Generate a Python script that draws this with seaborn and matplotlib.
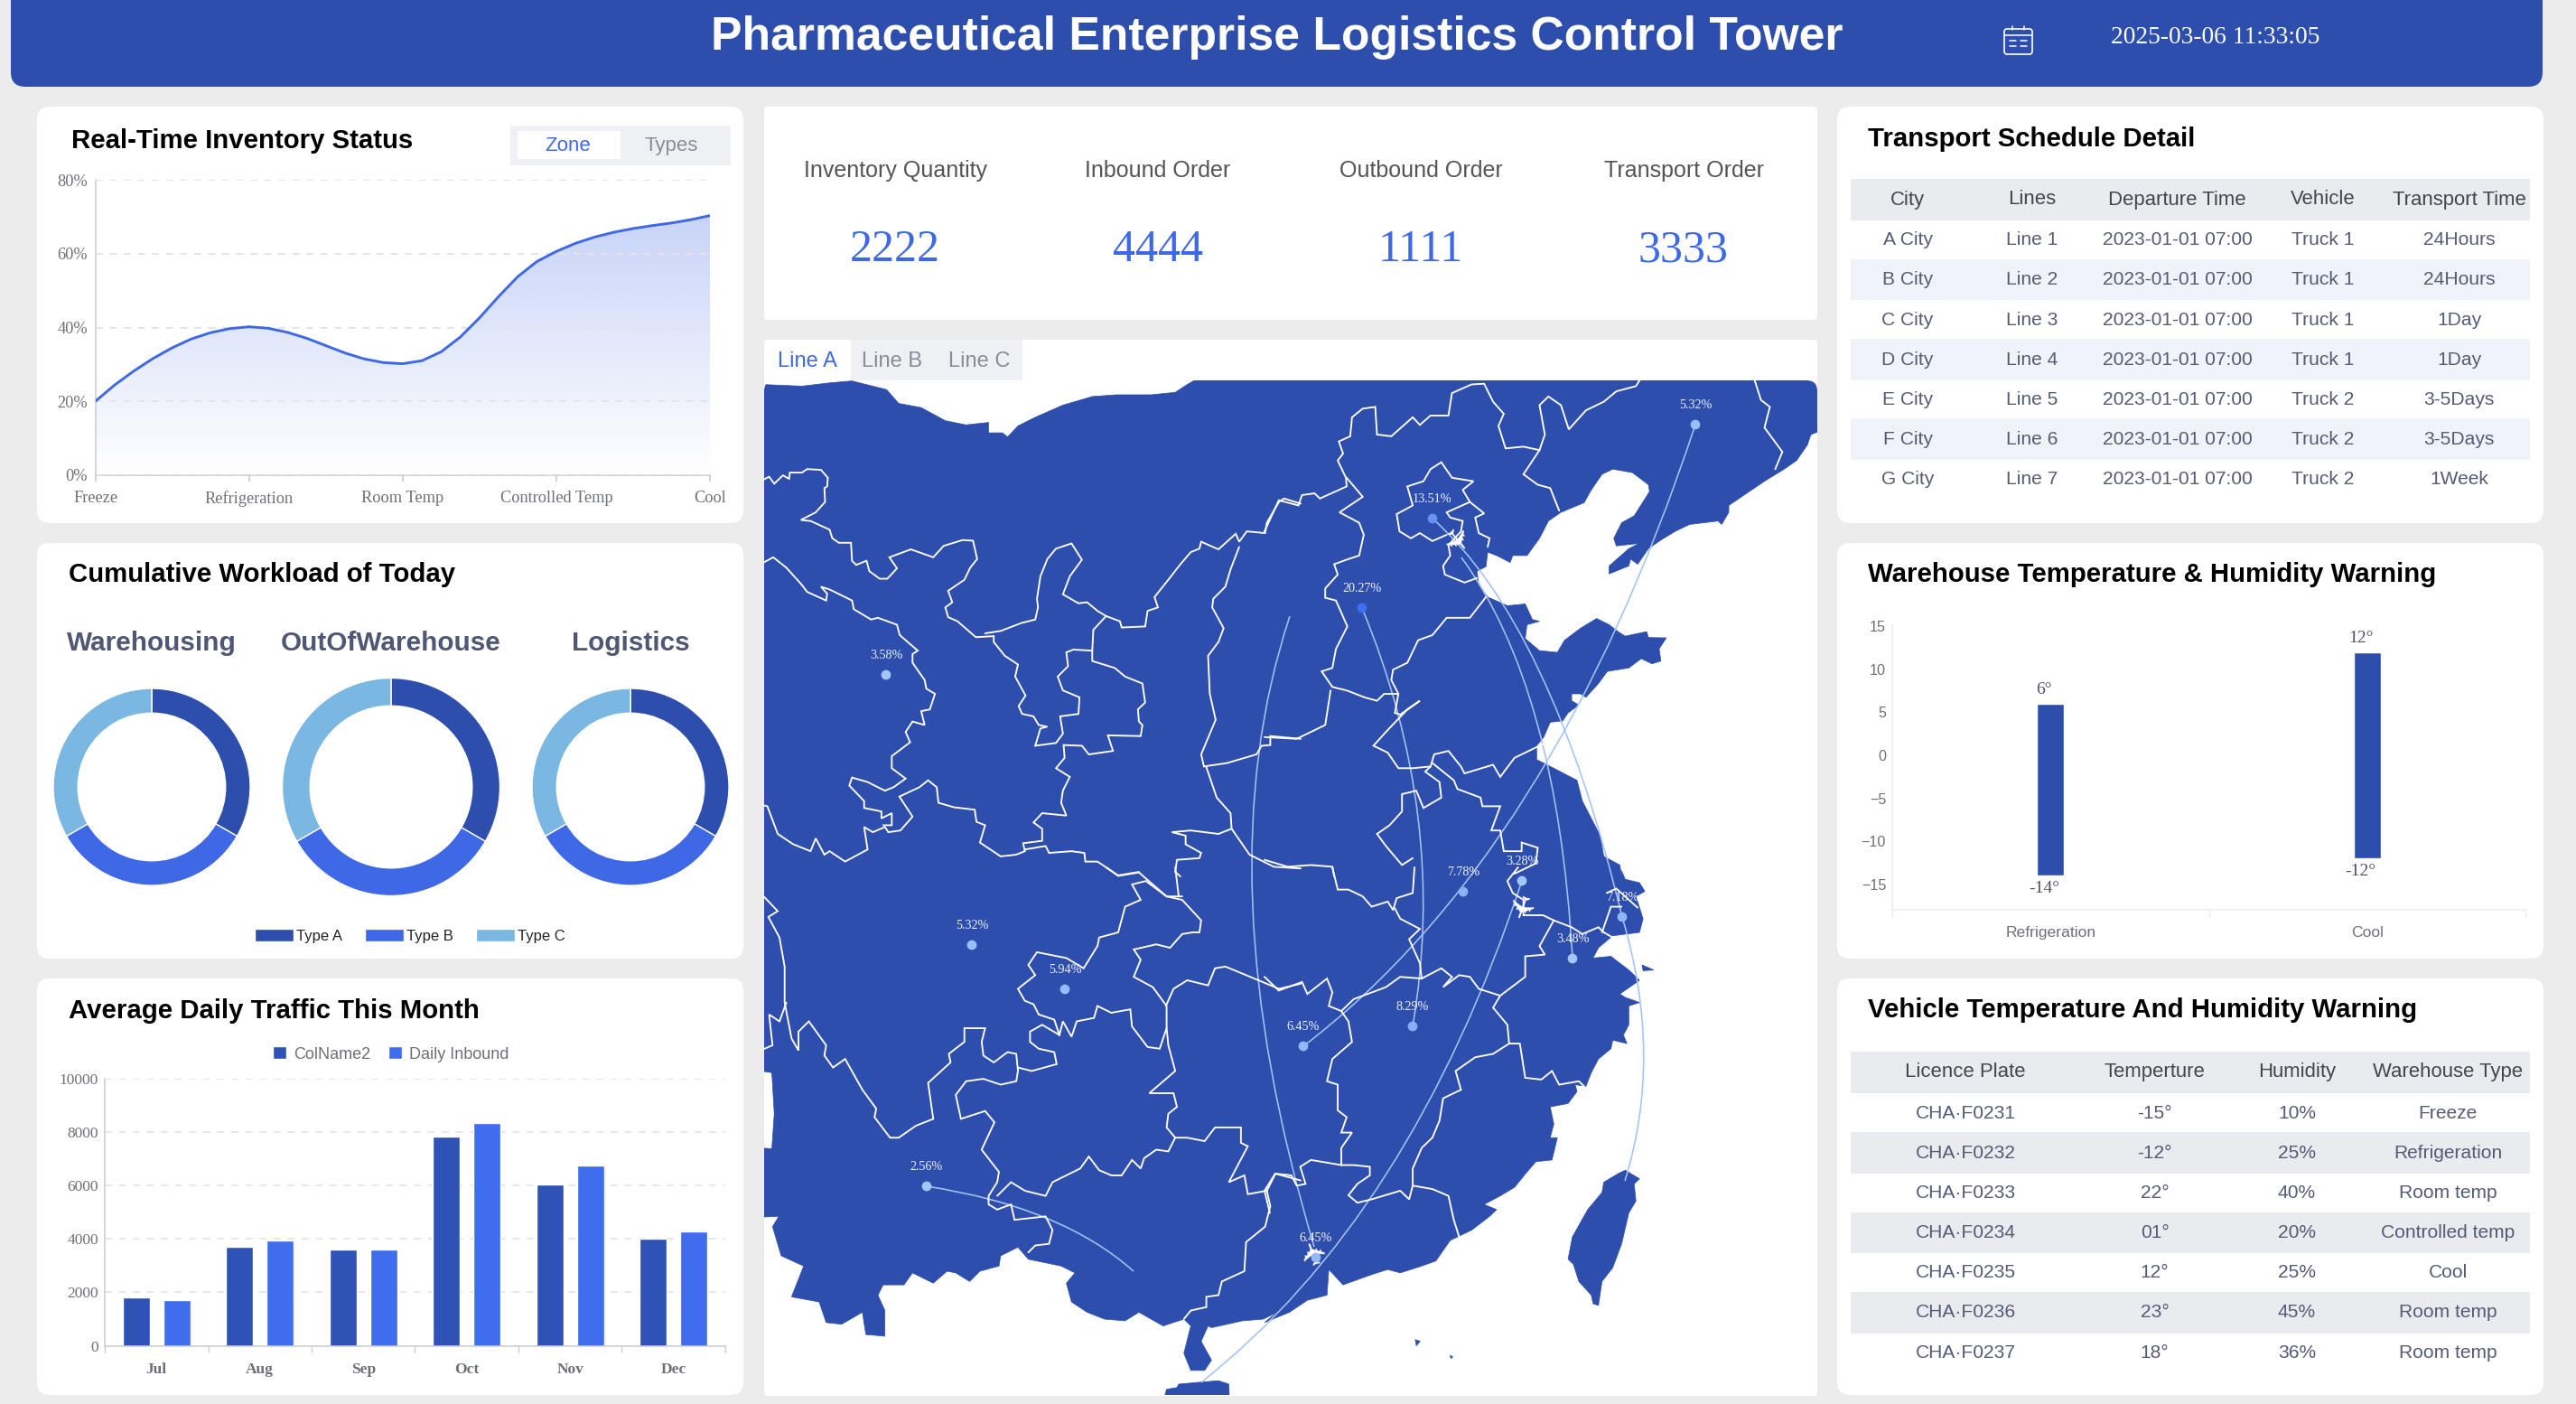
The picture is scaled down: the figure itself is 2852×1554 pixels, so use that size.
import numpy as np
import pandas as pd
import seaborn as sns
import matplotlib.pyplot as plt
from matplotlib.patches import FancyBboxPatch, Polygon, PathPatch, Rectangle, Patch
from matplotlib.path import Path

W, H = 2852, 1554
SANS = "Liberation Sans"
SERIF = "Liberation Serif"
NAVY = "#2e4eae"
BLUE = "#3e68e6"
SKY = "#7ab8e2"
GREY = "#6e7079"
TABLE_TEXT = "#555b75"

# inventory curve
CURVE_X = [0, .125, .25, .375, .5, .625, .75, .875, 1, 1.125, 1.25, 1.375, 1.5, 1.625, 1.75, 1.875,
           2, 2.125, 2.25, 2.375, 2.5, 2.625, 2.75, 2.875, 3, 3.125, 3.25, 3.375, 3.5, 3.625, 3.75, 3.875, 4]
CURVE_Y = [20, 24.4, 28.2, 31.6, 34.5, 36.9, 38.6, 39.7, 40.2, 39.8, 38.7, 37.1, 35.1, 33.1, 31.5, 30.5,
           30.2, 31, 33.4, 37.4, 42.6, 48.4, 53.8, 57.9, 60.6, 62.8, 64.5, 65.8, 66.8, 67.6, 68.3, 69.2, 70.3]
ZONES = ["Freeze", "Refrigeration", "Room Temp", "Controlled Temp", "Cool"]

DONUT_TITLES = ["Warehousing", "OutOfWarehouse", "Logistics"]
DONUT_TYPES = ["Type A", "Type B", "Type C"]
DONUT_VALUES = [[1, 1, 1], [1, 1, 1], [1, 1, 1]]

MONTHS = ["Jul", "Aug", "Sep", "Oct", "Nov", "Dec"]
COLNAME2 = [1810, 3710, 3610, 7830, 6040, 4000]
DAILY_INBOUND = [1710, 3950, 3610, 8340, 6740, 4290]

WAREHOUSES = ["Refrigeration", "Cool"]
TEMP_LOW = [-14, -12]
TEMP_HIGH = [6, 12]

KPI_NAMES = ["Inventory Quantity", "Inbound Order", "Outbound Order", "Transport Order"]
KPI_VALUES = ["2222", "4444", "1111", "3333"]

SCHEDULE_HEAD = ["City", "Lines", "Departure Time", "Vehicle", "Transport Time"]
CITY = ["A City", "B City", "C City", "D City", "E City", "F City", "G City"]
LINES = ["Line 1", "Line 2", "Line 3", "Line 4", "Line 5", "Line 6", "Line 7"]
DEPARTURE = ["2023-01-01 07:00"] * 7
VEHICLE = ["Truck 1", "Truck 1", "Truck 1", "Truck 1", "Truck 2", "Truck 2", "Truck 2"]
TRANSIT = ["24Hours", "24Hours", "1Day", "1Day", "3-5Days", "3-5Days", "1Week"]

VEHICLE_HEAD = ["Licence Plate", "Temperture", "Humidity", "Warehouse Type"]
PLATE = ["CHA·F0231", "CHA·F0232", "CHA·F0233", "CHA·F0234", "CHA·F0235", "CHA·F0236", "CHA·F0237"]
VEHICLE_TEMP = ["-15°", "-12°", "22°", "01°", "12°", "23°", "18°"]
HUMIDITY = ["10%", "25%", "40%", "20%", "25%", "45%", "36%"]
STORE_TYPE = ["Freeze", "Refrigeration", "Room temp", "Controlled temp", "Cool", "Room temp", "Room temp"]

NW = (840, 370, .3827, .3827)
NE = (1400, 370, .3954, .3827)
SW = (840, 960, .3827, .3788)
SE = (1400, 960, .3954, .3788)

COAST_NW = [(5, 145), (125, 150), (210, 140), (270, 135), (370, 160), (405, 200), (470, 212), (540, 250), (600, 262),
            (665, 255), (665, 285), (705, 285), (720, 297), (750, 265), (800, 240), (880, 205), (965, 180), (1035, 175),
            (1135, 175), (1205, 168), (1240, 145), (1275, 125)]
COAST_NE = [(1560, 125), (1560, 278), (1530, 290), (1520, 320), (1490, 365), (1455, 390), (1400, 425), (1350, 460),
            (1300, 495), (1300, 515), (1280, 550), (1270, 540), (1190, 550), (1150, 570), (1110, 595), (1075, 620),
            (1045, 665), (1025, 650), (1020, 670), (965, 693), (965, 670), (1020, 620), (1048, 605), (985, 612),
            (978, 590), (1000, 545), (1035, 525), (1078, 455), (1075, 435), (1030, 400), (975, 390), (945, 405),
            (915, 450), (895, 487), (830, 515), (795, 540), (770, 590), (735, 640), (695, 640), (688, 660), (650, 640),
            (625, 630), (620, 672), (595, 685), (600, 725), (625, 760), (680, 785), (730, 780), (750, 825), (770, 830),
            (735, 840), (730, 880), (770, 915), (820, 920), (840, 885), (885, 850), (930, 822), (965, 840), (990, 860),
            (1010, 873), (1070, 860), (1075, 877), (1125, 878), (1105, 910), (1110, 945), (1085, 953), (1055, 938),
            (1020, 965), (960, 975), (935, 1010), (900, 1050), (885, 1040), (860, 1040), (860, 1060), (880, 1072),
            (850, 1095), (835, 1118), (800, 1122), (782, 1165), (762, 1190), (762, 1230), (810, 1255), (875, 1290),
            (890, 1350), (940, 1450), (950, 1510), (995, 1535), (1000, 1568)]
COAST_SE = [(1000, 10), (1010, 35), (1050, 45), (1065, 70), (1040, 85), (1060, 150), (1050, 190), (975, 200), (935, 235),
            (920, 265), (970, 260), (1020, 300), (1050, 330), (995, 370), (1010, 380), (1050, 395), (1020, 405),
            (1020, 460), (1005, 490), (1015, 515), (975, 505), (970, 530), (935, 560), (915, 600), (900, 640),
            (870, 635), (875, 655), (850, 690), (800, 700), (810, 750), (800, 790), (820, 790), (805, 855), (760, 860),
            (735, 890), (700, 935), (660, 960), (615, 985), (650, 1000), (630, 1020), (580, 1060), (520, 1090),
            (480, 1150), (440, 1165), (380, 1185), (345, 1175), (300, 1190), (220, 1220), (180, 1175), (175, 1250),
            (120, 1265), (70, 1300), (0, 1330)]
COAST_SW = [(1500, 1300), (1460, 1320), (1400, 1325), (1310, 1345), (1300, 1340), (1280, 1385), (1310, 1440), (1290, 1470),
            (1250, 1470), (1230, 1420), (1250, 1340), (1230, 1320), (1170, 1340), (1100, 1300), (1060, 1325), (1000, 1320),
            (950, 1300), (905, 1270), (890, 1215), (915, 1185), (875, 1165), (780, 1145), (750, 1110), (700, 1135),
            (695, 1165), (640, 1180), (610, 1210), (570, 1185), (545, 1180), (505, 1215), (445, 1185), (420, 1220),
            (360, 1220), (345, 1250), (365, 1295), (365, 1370), (310, 1365), (300, 1300), (240, 1335), (195, 1330),
            (175, 1270), (95, 1255), (130, 1165), (65, 1135), (40, 1050), (58, 1020), (5, 1022), (5, 820), (38, 822),
            (45, 720), (38, 600), (5, 595)]
HAINAN = [(1170, 1560), (1180, 1525), (1210, 1520), (1215, 1510), (1270, 1505), (1330, 1500), (1360, 1510), (1362, 1560)]
TAIWAN = [(1010, 885), (1050, 910), (1035, 925), (1040, 975), (1020, 1010), (1000, 1100), (975, 1170), (945, 1210),
          (935, 1280), (920, 1275), (915, 1250), (880, 1210), (865, 1160), (850, 1145), (862, 1080), (905, 1000),
          (945, 950), (950, 920), (990, 895)]
ISLET_A = [(1057, 285), (1090, 300), (1060, 302)]
ISLET_B = [(422, 1380), (436, 1385), (425, 1398)]
ISLET_C = [(520, 1426), (527, 1430), (522, 1436)]

BORDERS_NW = [
    [(5, 425), (30, 412), (45, 432), (70, 408), (88, 418), (90, 400), (125, 400), (140, 390), (180, 392), (200, 415), (198, 440),
     (190, 445), (192, 485), (165, 515), (122, 537), (150, 540), (205, 565), (213, 590), (232, 603), (267, 603), (270, 655),
     (282, 667), (312, 655), (320, 685), (350, 707), (372, 707), (400, 677), (378, 645), (440, 622), (505, 645), (535, 612),
     (590, 595), (620, 597), (632, 650), (612, 675), (595, 710), (548, 742), (560, 775), (540, 790), (548, 818), (575, 830),
     (628, 876), (680, 873), (680, 890), (712, 930), (750, 955), (742, 990), (772, 1045), (752, 1075), (762, 1098), (795, 1105),
     (810, 1130), (835, 1135), (815, 1140), (800, 1190), (860, 1182), (880, 1155), (872, 1105), (925, 1098), (928, 1050),
     (880, 1030), (865, 990), (895, 960), (890, 920), (910, 912), (965, 915), (965, 945), (1030, 965), (1060, 990), (1110, 1010),
     (1118, 1065), (1097, 1085), (1100, 1120), (1110, 1130), (1105, 1162), (1010, 1160), (1025, 1205), (955, 1215), (935, 1190),
     (882, 1188), (885, 1225), (860, 1255), (900, 1280), (880, 1320), (875, 1355), (890, 1392), (820, 1385), (795, 1412),
     (820, 1430), (820, 1465), (765, 1472), (770, 1495), (745, 1505), (700, 1510), (640, 1470), (655, 1420), (630, 1410),
     (625, 1375), (565, 1368), (520, 1355), (515, 1310), (490, 1290), (465, 1310), (407, 1337), (445, 1395), (410, 1435),
     (375, 1440), (365, 1425), (330, 1440), (305, 1425), (315, 1490), (250, 1525), (205, 1495), (190, 1505), (165, 1458),
     (150, 1495), (100, 1475), (55, 1445), (25, 1365), (5, 1360)],
    [(5, 665), (42, 645), (80, 675), (125, 725), (140, 745), (195, 770), (198, 750), (180, 730), (205, 738), (270, 770), (275, 795),
     (325, 825), (345, 820), (400, 840), (408, 870), (460, 915), (445, 925), (445, 950), (480, 1000), (485, 1025), (510, 1040),
     (495, 1085), (470, 1090), (480, 1130), (445, 1120), (425, 1150), (438, 1180), (385, 1220), (385, 1255), (425, 1285), (390, 1310),
     (365, 1320), (315, 1295), (270, 1282), (262, 1305), (305, 1350), (305, 1370), (355, 1380), (355, 1400), (385, 1385), (385, 1420),
     (360, 1420)],
    [(655, 865), (700, 858), (760, 835), (800, 825), (808, 790), (805, 765), (815, 700), (835, 650), (860, 620), (905, 605), (935, 652),
     (900, 700), (880, 752), (925, 778), (950, 775), (980, 800), (1005, 815), (968, 855), (965, 915)],
    [(1005, 815), (1045, 830), (1050, 848), (1118, 845), (1125, 800), (1140, 795), (1155, 790), (1145, 760), (1185, 710), (1220, 665),
     (1250, 630), (1275, 620), (1280, 600), (1330, 622), (1380, 577), (1390, 600), (1412, 570), (1465, 575), (1470, 545), (1505, 485),
     (1520, 475), (1568, 490)],
    [(1390, 615), (1365, 680), (1350, 730), (1315, 765), (1312, 790), (1345, 850), (1330, 890), (1300, 930), (1305, 1040), (1322, 1115),
     (1280, 1215), (1288, 1250), (1355, 1240), (1440, 1215), (1455, 1190), (1480, 1188), (1480, 1162), (1568, 1170)],
    [(1295, 1252), (1325, 1340), (1365, 1385), (1368, 1430), (1330, 1445), (1250, 1435), (1195, 1440), (1235, 1450), (1235, 1475),
     (1280, 1500), (1275, 1515), (1210, 1520), (1205, 1555), (1220, 1568)],
    [(1368, 1430), (1420, 1505), (1490, 1540), (1568, 1545)],
    [(770, 1490), (830, 1480), (840, 1500), (905, 1495), (942, 1500), (945, 1525), (980, 1525), (1040, 1565), (1100, 1555)],
]
BORDERS_NE = [
    [(0, 570), (40, 480), (95, 495), (105, 465), (140, 460), (155, 475), (230, 440), (228, 415), (205, 365), (220, 345), (208, 310),
     (240, 295), (245, 240), (275, 215), (310, 210), (315, 290), (355, 295), (415, 240), (435, 262), (465, 235), (515, 235), (525, 170),
     (580, 145), (615, 143), (640, 195), (670, 230), (655, 265), (675, 330), (725, 325), (770, 335), (785, 290), (770, 205), (795, 180),
     (830, 205), (852, 275), (900, 220), (950, 195), (985, 165), (1040, 150), (1055, 125)],
    [(1370, 125), (1390, 190), (1415, 210), (1400, 270), (1450, 340), (1430, 390)],
    [(770, 335), (725, 405), (765, 435), (800, 445), (825, 510)],
    [(230, 415), (275, 470), (210, 515), (265, 545), (278, 580), (265, 640), (235, 650), (195, 665), (205, 695), (170, 735), (170, 762),
     (200, 770), (232, 845), (200, 910), (190, 965), (160, 975), (190, 1020)],
    [(510, 580), (470, 598), (435, 575), (410, 590), (378, 570), (370, 520), (415, 495), (400, 440), (445, 425), (465, 390), (495, 370),
     (525, 415), (585, 425), (555, 450), (575, 485), (510, 515), (520, 530), (555, 540), (550, 570), (515, 610), (520, 640), (500, 670),
     (505, 695), (560, 718), (595, 705)],
    [(575, 485), (615, 518), (590, 530), (600, 575), (630, 590), (625, 615)],
    [(620, 760), (590, 800), (575, 820), (510, 820), (470, 870), (430, 885), (400, 950), (360, 970), (355, 1000), (375, 1040), (335, 1040),
     (315, 1060), (280, 1050), (230, 1030), (190, 1020)],
    [(375, 1040), (365, 1095), (380, 1100), (435, 1060), (400, 1085), (340, 1150), (305, 1190), (345, 1210), (375, 1255), (415, 1255),
     (465, 1250), (475, 1215), (515, 1205), (550, 1250), (560, 1270), (640, 1245), (660, 1280), (700, 1225), (780, 1185)],
    [(465, 1250), (450, 1265), (490, 1295), (495, 1340), (445, 1370), (425, 1320), (385, 1330), (385, 1380), (350, 1420), (315, 1445),
     (340, 1480), (385, 1535), (415, 1515)],
    [(470, 1240), (530, 1290), (540, 1315), (605, 1340), (610, 1365), (660, 1365), (635, 1435), (660, 1435), (670, 1495), (720, 1495),
     (720, 1470), (765, 1485), (760, 1530), (700, 1560)],
    [(0, 1165), (90, 1170), (170, 1130), (185, 1030)],
    [(0, 1520), (65, 1540), (130, 1535), (190, 1540), (195, 1568)],
]
BORDERS_SW = [
    [(5, 75), (55, 128), (28, 145), (60, 205), (75, 290), (75, 395), (95, 500), (115, 535), (115, 480), (145, 450), (195, 520), (190, 550),
     (215, 585), (250, 560), (300, 650), (340, 705), (335, 730), (380, 790), (405, 790), (455, 755), (505, 735), (490, 630), (555, 570),
     (550, 545), (595, 510), (595, 470), (655, 470), (645, 510), (650, 550), (680, 570), (720, 540), (745, 545), (750, 595), (745, 625),
     (700, 635), (650, 618), (600, 625), (570, 665), (585, 735), (655, 712), (682, 745), (645, 825), (695, 890), (690, 920), (665, 960),
     (665, 985), (690, 1000), (730, 985), (740, 1030), (830, 1020), (850, 1060), (840, 1100), (800, 1105), (780, 1125)],
    [(80, 395), (60, 450), (30, 430), (40, 520), (5, 535)],
    [(750, 585), (790, 595), (862, 575), (855, 540), (810, 530), (785, 510), (785, 480), (820, 460), (870, 490), (880, 450), (905, 495),
     (920, 450), (970, 440), (980, 405), (1020, 425), (1075, 415), (1080, 465), (1125, 525), (1160, 530), (1180, 470), (1180, 405),
     (1140, 350), (1085, 320), (1105, 270), (1085, 240), (1150, 225), (1190, 235), (1225, 195), (1255, 190), (1275, 190), (1280, 155),
     (1225, 95), (1180, 85), (1120, 40), (1080, 50), (1105, 95), (1060, 115), (1040, 190), (985, 205), (980, 230), (940, 295), (890, 265),
     (805, 248), (780, 285), (800, 315), (750, 355), (770, 390), (795, 400), (810, 430), (855, 445), (870, 490)],
    [(1005, 0), (1040, 25), (1100, 15), (1180, 85), (1225, 85)],
    [(1205, 0), (1215, 85)],
    [(1180, 470), (1185, 520), (1205, 595), (1130, 660), (1200, 660), (1210, 700), (1185, 720), (1180, 760), (1205, 790), (1185, 830),
     (1150, 825), (1115, 850), (1105, 880), (1080, 855), (1050, 900), (1020, 900), (985, 885), (955, 845), (930, 880), (850, 920),
     (830, 960), (770, 945), (730, 920), (690, 960)],
    [(1205, 790), (1240, 790), (1290, 800), (1320, 760), (1395, 760), (1395, 805), (1415, 815), (1360, 920), (1405, 900), (1415, 955),
     (1470, 945), (1495, 895), (1568, 915)],
    [(1470, 945), (1480, 990), (1465, 1050), (1410, 1095), (1405, 1180), (1340, 1210), (1330, 1250), (1295, 1255), (1295, 1285),
     (1250, 1295), (1230, 1320)],
    [(1178, 405), (1200, 355), (1240, 330), (1300, 345), (1320, 295), (1350, 290), (1410, 315), (1505, 355), (1568, 340)],
]
BORDERS_SE = [
    [(190, 0), (205, 65), (235, 65), (275, 85), (300, 115), (345, 100), (360, 125), (370, 90), (415, 75), (420, 0)],
    [(365, 120), (380, 150), (435, 180), (405, 210), (435, 280), (440, 325), (380, 320), (340, 350), (250, 385), (215, 420), (235, 450),
     (245, 510), (190, 560), (175, 625), (205, 635), (205, 710), (230, 730), (215, 775), (245, 775), (215, 820), (215, 870), (130, 855),
     (100, 875), (115, 925), (90, 930), (75, 900), (30, 895), (0, 945), (15, 1010)],
    [(0, 320), (40, 360), (105, 335), (120, 370), (175, 325), (190, 365), (180, 405), (215, 420)],
    [(440, 325), (495, 295), (525, 320), (500, 350), (545, 315), (575, 320), (600, 355), (660, 375), (640, 410), (680, 460), (685, 515),
     (640, 545), (590, 555), (535, 595), (550, 650), (500, 675), (490, 740), (470, 790), (440, 820), (415, 880), (415, 930), (405, 970),
     (380, 945), (300, 970), (260, 980), (235, 958), (260, 925), (295, 900), (295, 875), (250, 870), (215, 870)],
    [(685, 515), (715, 515), (730, 615), (775, 620), (805, 595), (825, 635), (880, 625), (895, 640)],
    [(415, 930), (470, 940), (515, 960), (530, 1030), (545, 1080)],
    [(710, 0), (680, 40), (695, 75), (725, 95), (725, 140), (780, 140), (810, 155), (770, 230), (785, 255), (730, 260), (730, 320), (660, 375)],
    [(810, 155), (860, 175), (890, 195), (935, 175), (950, 190), (975, 205)],
    [(945, 190), (970, 115), (1000, 115)],
    [(958, 75), (985, 62), (1045, 118)],
]

# cities on the map: value, place on the map
CITY_VALUES = ["3.58%", "20.27%", "13.51%", "5.32%", "7.78%", "3.28%", "3.48%", "7.18%", "6.45%", "8.29%", "6.45%", "5.32%", "5.94%", "2.56%"]
CITY_X = [981, 1508, 1586, 1877, 1620, 1685, 1741, 1796, 1443, 1564, 1457, 1076, 1179, 1026]
CITY_Y = [747, 673, 574, 470, 987, 975, 1061, 1015, 1158, 1136, 1392, 1046, 1095, 1313]

# routes as start, bend, end of a quadratic curve
ROUTES = [
    [(1026, 1313), (1175, 1336), (1255, 1407)],
    [(1428, 682), (1332, 970), (1455, 1380)],
    [(1508, 673), (1604, 905), (1564, 1136)],
    [(1586, 574), (1717, 690), (1796, 1015)],
    [(1618, 617), (1724, 761), (1741, 1061)],
    [(1877, 470), (1720, 946), (1443, 1158)],
    [(1685, 975), (1562, 1347), (1330, 1530)],
    [(1796, 1015), (1842, 1169), (1799, 1307)],
]
PLANE_X = [1610, 1679, 1455]
PLANE_Y = [601, 1004, 1384]
PLANE_TURN = [-50, -110, 110]


def to_map(points, crop):
    x0, y0, sx, sy = crop
    return [(x0 + x * sx, y0 + y * sy) for x, y in points]


def box_ax(x0, y0, x1, y1):
    ax = fig.add_axes([x0 / W, 1 - y1 / H, (x1 - x0) / W, (y1 - y0) / H])
    ax.patch.set_alpha(0)
    return ax


def card(x0, y0, x1, y1, color="white", r=14):
    bg.add_patch(FancyBboxPatch((x0, y0), x1 - x0, y1 - y0, boxstyle=f"round,pad=0,rounding_size={r}",
                                fc=color, ec="none"))


def heading(x, y, text):
    bg.text(x, y + 1, text, family=SANS, weight="bold", fontsize=21.2, color="black", va="center", ha="left")


def style_axis(ax, color="#cccccc"):
    sns.despine(ax=ax)
    for side in ["left", "bottom"]:
        ax.spines[side].set_color(color)
        ax.spines[side].set_linewidth(1.1)


def draw_table(columns, col_x, head, head_y, row_y, bands, band_color, x0, x1):
    bg.add_patch(Rectangle((x0, head_y - 23), x1 - x0, 46, fc="#e9ebef", ec="none"))
    for top, bottom in bands:
        bg.add_patch(Rectangle((x0, top), x1 - x0, bottom - top, fc=band_color, ec="none"))
    for name, x in zip(head, col_x):
        bg.text(x, head_y, name, family=SANS, fontsize=15.9, color="#44454f", ha="center", va="center")
    for values, x in zip(columns, col_x):
        for value, y in zip(values, row_y):
            bg.text(x, y, value, family=SANS, fontsize=15.1, color=TABLE_TEXT, ha="center", va="center")


sns.set_theme(style="white", rc={"figure.facecolor": "#ececec", "axes.facecolor": "none"})
plt.rcParams["font.family"] = [SANS, "DejaVu Sans"]

fig = plt.figure(figsize=(W / 100, H / 100), dpi=100)
bg = fig.add_axes([0, 0, 1, 1])
bg.set_xlim(0, W)
bg.set_ylim(H, 0)
bg.axis("off")

# header
card(12, -30, 2815, 96, NAVY, r=16)
bg.text(1414, 41, "Pharmaceutical Enterprise Logistics Control Tower", family=SANS, weight="bold", fontsize=37.2,
        color="white", ha="center", va="center")
bg.text(2453, 42, "2025-03-06 11:33:05", family=SERIF, fontsize=19.8, color="white", ha="center", va="center")
bg.add_patch(FancyBboxPatch((2219, 32), 31, 28, boxstyle="round,pad=0,rounding_size=3", fc="none", ec="white", lw=1.2))
bg.plot([2219, 2250], [39, 39], color="white", lw=1.1)
for x in [2228, 2241]:
    bg.plot([x, x], [29, 33], color="white", lw=1.1)
for x in [2225, 2237]:
    for y in [45, 51]:
        bg.plot([x, x + 7], [y, y], color="white", lw=1.1)

# cards
for y0, y1 in [(118, 579), (601, 1061), (1083, 1544)]:
    card(41, y0, 823, y1)
    card(2034, y0, 2816, y1)
card(846, 118, 2012, 354, r=4)
card(846, 376, 2012, 1545, r=4)

heading(79, 155, "Real-Time Inventory Status")
heading(76, 635, "Cumulative Workload of Today")
heading(76, 1118, "Average Daily Traffic This Month")
heading(2068, 153, "Transport Schedule Detail")
heading(2068, 635, "Warehouse Temperature & Humidity Warning")
heading(2068, 1117, "Vehicle Temperature And Humidity Warning")

# zone toggle
bg.add_patch(Rectangle((565, 139), 244, 44, fc="#eff0f4", ec="none"))
bg.add_patch(Rectangle((573, 145), 114, 31, fc="white", ec="none"))
bg.text(629, 161.5, "Zone", family=SANS, fontsize=16, color=BLUE, ha="center", va="center")
bg.text(743, 161.5, "Types", family=SANS, fontsize=16, color="#8a8d99", ha="center", va="center")

# inventory area chart
ax = box_ax(105.5, 199, 786, 526)
sns.lineplot(x=CURVE_X, y=CURVE_Y, color=BLUE, linewidth=2.1, ax=ax, zorder=4)
area = ax.fill_between(CURVE_X, CURVE_Y, 0, color="none")
shade = np.zeros((256, 2, 4))
shade[..., :3] = plt.matplotlib.colors.to_rgb(BLUE)
shade[..., 3] = np.linspace(.29, 0, 256)[:, None]
im = ax.imshow(shade, extent=[0, 4, 0, max(CURVE_Y)], aspect="auto", zorder=1)
im.set_clip_path(area.get_paths()[0], ax.transData)
ax.set_xlim(0, 4)
ax.set_ylim(0, 80)
ax.set_xticks(range(5), ZONES)
ax.set_yticks([0, 20, 40, 60, 80], ["0%", "20%", "40%", "60%", "80%"])
ax.grid(axis="y", color="#e4e4e8", linestyle=(0, (4, 4)), linewidth=1.4)
ax.set_axisbelow(False)
style_axis(ax)
ax.tick_params(axis="x", length=5, color="#cccccc", labelsize=13.2, labelcolor=GREY, labelfontfamily=SERIF, pad=7, bottom=True)
ax.tick_params(axis="y", length=0, labelsize=13.2, labelcolor=GREY, labelfontfamily=SERIF, pad=6)
ax.set_xlabel("")

# donuts
wedges = None
for title, values, cx, r in zip(DONUT_TITLES, DONUT_VALUES, [168, 433, 698], [109, 120.5, 109]):
    ax = box_ax(cx - r, 871 - r, cx + r, 871 + r)
    pieces, _ = ax.pie(values, colors=[NAVY, BLUE, SKY], startangle=90, counterclock=False, radius=1,
                       wedgeprops={"width": .25 if r < 110 else .255})
    ax.set_xlim(-1, 1)
    ax.set_ylim(-1, 1)
    wedges = wedges or pieces
    bg.text(cx, 712, title, family=SANS, weight="bold", fontsize=21.4, color="#4f5775", ha="center", va="center")
fig.legend(wedges, DONUT_TYPES, loc="center", bbox_to_anchor=(454 / W, 1 - 1036 / H), ncols=3, frameon=False,
           fontsize=12, handlelength=2.58, handleheight=.9, handletextpad=.18, columnspacing=1.52, labelcolor="#222222")

# traffic bars
traffic = pd.DataFrame({"month": MONTHS * 2, "series": ["ColName2"] * 6 + ["Daily Inbound"] * 6,
                        "value": COLNAME2 + DAILY_INBOUND})
ax = box_ax(116, 1193.5, 803, 1489.5)
sns.barplot(data=traffic, x="month", y="value", hue="series", palette=["#2e52b6", "#3f6dee"], width=.794, gap=.34,
            ax=ax, saturation=1)
ax.set_xlim(-.5, 5.5)
ax.set_ylim(0, 10000)
ax.set_yticks(range(0, 10001, 2000))
ax.set_xlabel("")
ax.set_ylabel("")
ax.grid(axis="y", color="#e8e8ec", linestyle=(0, (4, 4)), linewidth=1.4)
ax.set_axisbelow(True)
style_axis(ax)
ax.set_xticks(np.arange(-.5, 6), minor=True)
ax.tick_params(axis="x", which="minor", length=5, color="#cccccc", bottom=True)
ax.tick_params(axis="x", which="major", length=0, labelsize=12.5, labelcolor=GREY, labelfontfamily=SERIF, pad=13)
for label in ax.get_xticklabels():
    label.set_weight("bold")
ax.tick_params(axis="y", length=0, labelsize=12.5, labelcolor=GREY, labelfontfamily=SERIF, pad=5)
handles = [Patch(fc=c, label=n) for c, n in zip(["#2e52b6", "#3f6dee"], ["ColName2", "Daily Inbound"])]
ax.legend(handles=handles, loc="center", bbox_to_anchor=(432.5 / W, 1 - 1167 / H), bbox_transform=fig.transFigure, ncols=2,
          frameon=False, fontsize=13, handlelength=.83, handleheight=.83, handletextpad=.44, columnspacing=1.1, labelcolor=GREY)

# kpi row
for name, value, x in zip(KPI_NAMES, KPI_VALUES, [991, 1282, 1573, 1864]):
    bg.text(x, 189, name, family=SANS, fontsize=18, color="#555555", ha="center", va="center")
    bg.text(x, 277, value, family=SERIF, fontsize=36, color=BLUE, ha="center", va="center")

# map tabs
bg.add_patch(Rectangle((942, 376), 190, 45, fc="#eff0f4", ec="none"))
for name, x, c in zip(["Line A", "Line B", "Line C"], [893.5, 988, 1084], [BLUE, "#8a8d99", "#8a8d99"]):
    bg.text(x, 399.5, name, family=SANS, fontsize=17, color=c, ha="center", va="center")

# map
ax = box_ax(846, 421, 2012, 1544)
ax.set_xlim(846, 2012)
ax.set_ylim(1544, 421)
ax.axis("off")
frame = FancyBboxPatch((846, 421), 1166, 1123, boxstyle="round,pad=0,rounding_size=12", fc="white", ec="none")
ax.add_patch(frame)
land = to_map(COAST_NW, NW) + to_map(COAST_NE, NE) + to_map(COAST_SE, SE) + to_map(COAST_SW, SW)
shapes = [land, to_map(HAINAN, SW), to_map(TAIWAN, SE), to_map(ISLET_A, SE), to_map(ISLET_B, SE), to_map(ISLET_C, SE)]
for points in shapes:
    poly = Polygon(points, closed=True, fc=NAVY, ec=NAVY, lw=.5)
    ax.add_patch(poly)
    poly.set_clip_path(frame)
for group, crop in [(BORDERS_NW, NW), (BORDERS_NE, NE), (BORDERS_SW, SW), (BORDERS_SE, SE)]:
    for border in group:
        xs, ys = zip(*to_map(border, crop))
        line, = ax.plot(xs, ys, color="white", lw=1.35, solid_joinstyle="miter")
        line.set_clip_path(frame)
for route in ROUTES:
    ax.add_patch(PathPatch(Path(route, [Path.MOVETO, Path.CURVE3, Path.CURVE3]), fc="none", ec="#a4c3f8", lw=1.15))
for x, y, turn in zip(PLANE_X, PLANE_Y, PLANE_TURN):
    ax.text(x, y, "\u2708", family="DejaVu Sans", fontsize=25, color="white", rotation=turn, ha="center", va="center")
numbers = [float(v.rstrip("%")) for v in CITY_VALUES]
sns.scatterplot(x=CITY_X, y=CITY_Y, hue=numbers, palette=sns.blend_palette(["#a4c6fa", "#3a72ee"], as_cmap=True),
                hue_norm=(4, 20), s=60, linewidth=0, legend=False, ax=ax, zorder=5)
ax.set_xlim(846, 2012)
ax.set_ylim(1544, 421)
for value, x, y in zip(CITY_VALUES, CITY_X, CITY_Y):
    ax.text(x, y - 22, value, family=SERIF, fontsize=10.2, color="#eef2fc", ha="center", va="center", zorder=6)

# transport table
draw_table([CITY, LINES, DEPARTURE, VEHICLE, TRANSIT], [2112, 2249.5, 2410.6, 2571.6, 2722.8], SCHEDULE_HEAD, 221,
           [265.7, 309.7, 354, 398, 442.7, 486.7, 530.7], [(287, 332), (375, 421), (463, 509)], "#f0f3f9", 2048.5, 2801)

# warehouse range bars
ax = box_ax(2095, 693, 2796, 1006.5)
sns.barplot(x=WAREHOUSES, y=[b - a for a, b in zip(TEMP_LOW, TEMP_HIGH)], bottom=TEMP_LOW, color=NAVY, saturation=1,
            width=.0856, ax=ax)
ax.set_xlim(-.5, 1.5)
ax.set_ylim(-17.9, 15)
ax.set_yticks(range(-15, 16, 5))
style_axis(ax, "#ececec")
ax.set_xticks([-.5, .5, 1.5], minor=True)
ax.tick_params(axis="x", which="minor", length=6, color="#ececec", bottom=True)
ax.tick_params(axis="x", which="major", length=0, labelsize=12.6, labelcolor=GREY, pad=13)
ax.tick_params(axis="y", length=0, labelsize=11.6, labelcolor=GREY, pad=5)
for i, (low, high) in enumerate(zip(TEMP_LOW, TEMP_HIGH)):
    ax.annotate(f"{high}°", (i, high), xytext=(-5, 5), textcoords="offset points", family=SERIF, fontsize=14,
                color="#4e5168", ha="center", va="bottom")
    ax.annotate(f"{low}°", (i, low), xytext=(-5, -4), textcoords="offset points", family=SERIF, fontsize=14,
                color="#4e5168", ha="center", va="top")

# vehicle table
draw_table([PLATE, VEHICLE_TEMP, HUMIDITY, STORE_TYPE], [2176, 2385.6, 2543, 2710], VEHICLE_HEAD, 1186.7,
           [1232, 1276.7, 1321, 1365, 1409, 1453, 1497.7], [(1253, 1299), (1342, 1387), (1430, 1476)], "#e9ebef",
           2048.5, 2801)

fig.savefig("out.png", dpi=100, facecolor=fig.get_facecolor())
